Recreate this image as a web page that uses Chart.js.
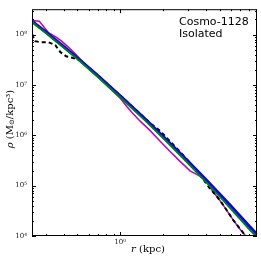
<!DOCTYPE html>
<html>
<head>
<meta charset="utf-8">
<script src="https://cdn.jsdelivr.net/npm/chart.js@4.4.1/dist/chart.umd.min.js"></script>
<style>
html, body { margin: 0; padding: 0; background: #fff; }
canvas { display: block; }
</style>
</head>
<body>
<canvas id="rho-chart" width="261" height="262"></canvas>
<script>
// radius (kpc) and density (Msun/kpc^3)
var blueR = [0.24, 0.3, 0.4, 0.5, 0.7, 1.0, 1.5, 2, 3, 4, 5, 6, 7, 8, 9.2];
var blueRho = [1.85e8, 1.13e8, 5.82e7, 3.44e7, 1.51e7, 6.11e6, 2.10e6, 9.57e5, 3.06e5, 1.32e5, 6.84e4, 3.93e4, 2.44e4, 1.61e4, 1.06e4];

var greenR = [0.24, 0.3, 0.4, 0.5, 0.7, 1.0, 1.5, 2, 3, 4, 5, 6, 7, 8, 9.2];
var greenRho = [1.77e8, 1.08e8, 5.57e7, 3.29e7, 1.43e7, 5.71e6, 1.96e6, 8.83e5, 2.79e5, 1.19e5, 6.11e4, 3.47e4, 2.14e4, 1.41e4, 9.3e3];

var magentaR = [0.241, 0.270, 0.313, 0.350, 0.386, 0.432, 0.483, 0.532, 0.616, 0.724,
	0.851, 1.0, 1.12, 1.214, 1.382, 1.624, 1.909, 2.243, 2.637, 3.099,
	3.47, 3.823, 4.079, 4.351, 4.718, 5.197, 5.727, 6.31, 6.952, 7.66];
var magentaRho = [1.90e8, 1.85e8, 1.10e8, 9.10e7, 7.51e7, 5.66e7, 4.16e7, 3.08e7, 1.97e7, 1.30e7,
	8.44e6, 5.47e6, 3.64e6, 2.82e6, 1.91e6, 1.24e6, 7.62e5, 4.79e5, 3.04e5, 1.97e5,
	1.65e5, 1.43e5, 1.20e5, 8.63e4, 6.37e4, 4.46e4, 2.94e4, 1.97e4, 1.36e4, 9.86e3];

var blackR = [0.241, 0.245, 0.253, 0.275, 0.313, 0.350, 0.379, 0.417, 0.460, 0.524,
	0.616, 0.724, 1.0, 1.382, 1.624, 1.909, 2.172, 2.433, 2.858, 3.47,
	3.948, 4.283, 4.792, 5.197, 5.64, 6.217, 6.952, 7.8];
var blackRho = [1.01e8, 8.87e7, 7.41e7, 7.08e7, 7.08e7, 6.19e7, 4.53e7, 3.71e7, 3.47e7, 3.10e7,
	2.09e7, 1.41e7, 6.19e6, 2.67e6, 1.75e6, 1.22e6, 8.32e5, 5.96e5, 3.67e5, 1.98e5,
	1.19e5, 8.67e4, 6.07e4, 4.44e4, 3.17e4, 2.08e4, 1.39e4, 9.27e3];

// tick positions
var xTicks = [0.3, 0.4, 0.5, 0.6, 0.7, 0.8, 0.9, 1, 2, 3, 4, 5, 6, 7, 8, 9];
var yTicks = [];
for (var e = 4; e <= 8; e++) {
	for (var m = 1; m <= 9; m++) {
		var v = m * Math.pow(10, e);
		if (v < 3.2e8) yTicks.push(v);
	}
}
var xRange = [0.24, 9.15];
var yRange = [1e4, 3.2e8];
var legendLines = ['Cosmo-1128', 'Isolated'];

var sup = {'-': '\u207b', '0': '\u2070', '1': '\u00b9', '2': '\u00b2', '3': '\u00b3', '4': '\u2074',
	'5': '\u2075', '6': '\u2076', '7': '\u2077', '8': '\u2078', '9': '\u2079'};

function isDecade(v) {
	var l = Math.log10(v);
	return Math.abs(l - Math.round(l)) < 1e-6;
}
function decadeLabel(v) {
	if (!isDecade(v)) return '';
	var s = String(Math.round(Math.log10(v)));
	return '10' + s.split('').map(function(c) { return sup[c]; }).join('');
}
function pts(rs, vals) {
	return rs.map(function(r, i) { return {x: r, y: vals[i]}; });
}
function tickObjs(list) {
	return list.map(function(v) { return {value: v, major: isDecade(v)}; });
}

var serif = '"DejaVu Serif", serif';

var frameTicks = {
	id: 'frameTicks',
	afterDraw: function(chart) {
		var ctx = chart.ctx, a = chart.chartArea;
		var xs = chart.scales.x, ys = chart.scales.y;
		ctx.save();
		ctx.strokeStyle = '#000';
		ctx.lineWidth = 1;
		ctx.beginPath();
		xs.ticks.forEach(function(t) {
			var px = Math.round(xs.getPixelForValue(t.value)) + 0.5;
			var len = t.major ? 4 : 2;
			ctx.moveTo(px, a.bottom); ctx.lineTo(px, a.bottom - len);
			ctx.moveTo(px, a.top); ctx.lineTo(px, a.top + len);
		});
		ys.ticks.forEach(function(t) {
			var py = Math.round(ys.getPixelForValue(t.value)) + 0.5;
			var len = t.major ? 4 : 2;
			ctx.moveTo(a.left, py); ctx.lineTo(a.left + len, py);
			ctx.moveTo(a.right, py); ctx.lineTo(a.right - len, py);
		});
		ctx.stroke();
		ctx.strokeRect(a.left + 0.5, a.top + 0.5, a.right - a.left - 1, a.bottom - a.top - 1);

		// legend text
		ctx.fillStyle = '#000';
		ctx.font = '11px "DejaVu Sans", sans-serif';
		ctx.textAlign = 'left';
		ctx.textBaseline = 'alphabetic';
		legendLines.forEach(function(s, i) {
			ctx.fillText(s, 179, 25 + i * 11.5);
		});

		// x title
		var xParts = [
			{t: 'r', f: 'italic 10px ' + serif, dy: 0},
			{t: ' (kpc)', f: '10px ' + serif, dy: 0}
		];
		drawParts(ctx, xParts, 148, 249.5);

		// y title, rotated
		ctx.translate(10, 119);
		ctx.rotate(-Math.PI / 2);
		var yParts = [
			{t: '\u03c1', f: 'italic 10px ' + serif, dy: 0},
			{t: ' (M', f: '10px ' + serif, dy: 0},
			{t: '\u2299', f: '7px ' + serif, dy: 2.5},
			{t: '/kpc\u00b3)', f: '10px ' + serif, dy: 0}
		];
		drawParts(ctx, yParts, 0, 0);
		ctx.restore();
	}
};

function drawParts(ctx, parts, cx, cy) {
	var w = 0;
	parts.forEach(function(p) { ctx.font = p.f; w += ctx.measureText(p.t).width; });
	var x = cx - w / 2;
	ctx.textAlign = 'left';
	ctx.textBaseline = 'middle';
	ctx.fillStyle = '#000';
	parts.forEach(function(p) {
		ctx.font = p.f;
		ctx.fillText(p.t, x, cy + p.dy);
		x += ctx.measureText(p.t).width;
	});
}

var ctx = document.getElementById('rho-chart').getContext('2d');
var rhoChart = new Chart(ctx, {
	type: 'line',
	data: {
		datasets: [{
			label: 'green',
			data: pts(greenR, greenRho),
			borderColor: '#008000',
			borderWidth: 2
		}, {
			label: 'blue',
			data: pts(blueR, blueRho),
			borderColor: '#0000ff',
			borderWidth: 3
		}, {
			label: 'black',
			data: pts(blackR, blackRho),
			borderColor: '#000000',
			borderWidth: 2,
			borderDash: [4, 3]
		}, {
			label: 'magenta',
			data: pts(magentaR, magentaRho),
			borderColor: '#bf00bf',
			borderWidth: 1.5
		}]
	},
	options: {
		responsive: false,
		animation: false,
		layout: { padding: { top: 3, right: 4, left: 0, bottom: 0 } },
		elements: {
			point: { radius: 0 },
			line: { tension: 0, fill: false }
		},
		datasets: { line: { clip: 0 } },
		plugins: { legend: { display: false }, tooltip: { enabled: false } },
		scales: {
			x: {
				type: 'logarithmic',
				min: xRange[0],
				max: xRange[1],
				afterBuildTicks: function(scale) { scale.ticks = tickObjs(xTicks); },
				afterFit: function(scale) { scale.height = 26; },
				grid: { display: false, drawTicks: false },
				border: { display: false },
				ticks: {
					autoSkip: false,
					maxRotation: 0,
					padding: 2,
					color: '#222',
					font: { family: serif, size: 7 },
					callback: function(v) { return decadeLabel(v); }
				}
			},
			y: {
				type: 'logarithmic',
				min: yRange[0],
				max: yRange[1],
				afterBuildTicks: function(scale) { scale.ticks = tickObjs(yTicks); },
				afterFit: function(scale) { scale.width = 32; },
				grid: { display: false, drawTicks: false },
				border: { display: false },
				ticks: {
					autoSkip: false,
					padding: 5,
					color: '#222',
					font: { family: serif, size: 7 },
					callback: function(v) { return decadeLabel(v); }
				}
			}
		}
	},
	plugins: [frameTicks]
});
</script>
</body>
</html>
